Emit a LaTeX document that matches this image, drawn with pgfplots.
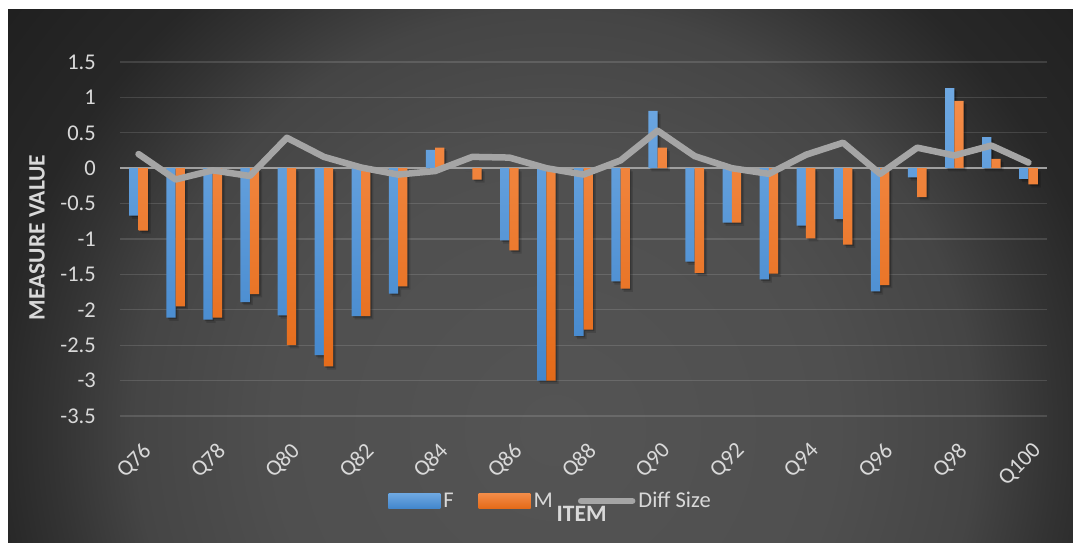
\documentclass[border=0pt]{standalone}
\usepackage{pgfplots}
\usepackage{pgfplotstable}
\pgfplotsset{compat=1.18}
\usepackage{fontspec}
\setmainfont{Carlito}

\definecolor{lab}{RGB}{217,217,217}
\definecolor{Ftop}{RGB}{110,168,226}
\definecolor{Fbot}{RGB}{66,134,204}
\definecolor{Mtop}{RGB}{244,140,72}
\definecolor{Mbot}{RGB}{228,106,24}
\definecolor{linegray}{RGB}{165,165,165}
\definecolor{zeroline}{RGB}{160,160,160}

\pgfdeclareradialshading{bgshade}{\pgfpoint{0pt}{0pt}}{%
 rgb(0pt)=(0.33,0.33,0.33);
 rgb(280pt)=(0.31,0.31,0.31);
 rgb(420pt)=(0.27,0.27,0.27);
 rgb(500pt)=(0.20,0.20,0.20);
 rgb(560pt)=(0.155,0.155,0.155);
 rgb(720pt)=(0.118,0.118,0.118)}

\pgfplotstableread{
x  F      M      D
0  -0.67  -0.88  0.20
1  -2.11  -1.95  -0.16
2  -2.14  -2.11  -0.03
3  -1.89  -1.78  -0.11
4  -2.08  -2.50  0.43
5  -2.64  -2.80  0.16
6  -2.09  -2.09  0.01
7  -1.77  -1.67  -0.09
8  0.26   0.29   -0.04
9  0      -0.16  0.16
10 -1.02  -1.16  0.15
11 -3.00  -3.00  0.00
12 -2.37  -2.28  -0.09
13 -1.60  -1.70  0.11
14 0.81   0.29   0.53
15 -1.32  -1.48  0.17
16 -0.77  -0.77  0.00
17 -1.57  -1.49  -0.08
18 -0.81  -0.99  0.19
19 -0.72  -1.08  0.36
20 -1.74  -1.65  -0.08
21 -0.13  -0.41  0.29
22 1.13   0.95   0.18
23 0.44   0.13   0.32
24 -0.15  -0.23  0.08
}\datatable

\begin{document}
\begin{tikzpicture}
\fill[white] (0pt,0pt) rectangle (1073pt,543pt);
\begin{scope}
\clip (8pt,0pt) rectangle (1073pt,533pt);
\node[inner sep=0pt] at (555pt,113pt) {\pgfuseshading{bgshade}};
\end{scope}
\begin{axis}[
  at={(120pt,127pt)}, anchor=south west,
  scale only axis, width=927pt, height=354pt,
  xmin=-0.5, xmax=24.5, ymin=-3.5, ymax=1.5,
  clip=false,
  axis line style={draw=none},
  tick style={draw=none}, major tick length=0pt,
  ytick={-3.5,-3,-2.5,-2,-1.5,-1,-0.5,0,0.5,1,1.5},
  yticklabels={-3.5,-3,-2.5,-2,-1.5,-1,-0.5,0,0.5,1,1.5},
  ymajorgrids, major grid style={color=white, opacity=0.13, line width=1.3pt},
  extra y ticks={0}, extra y tick labels={},
  extra y tick style={grid=major, major grid style={color=zeroline, opacity=1, line width=1.6pt}},
  xtick={0,2,4,6,8,10,12,14,16,18,20,22,24},
  xticklabels={Q76,Q78,Q80,Q82,Q84,Q86,Q88,Q90,Q92,Q94,Q96,Q98,Q100},
  xticklabel style={yshift=-25pt, xshift=3pt, rotate=45, anchor=north east, inner sep=0pt},
  yticklabel style={anchor=east, inner sep=0pt, xshift=-24pt},
  tick label style={font=\fontsize{22.5}{27}\selectfont, text=lab},
  label style={font=\bfseries\fontsize{23.5}{28}\selectfont, text=lab},
  xlabel={ITEM},
  xlabel style={at={(axis description cs:0.498,-0.277)}, anchor=center},
  ylabel={MEASURE VALUE},
  ylabel style={at={(axis description cs:-0.0895,0.504)}, anchor=center},
  legend style={at={(0.465,-0.240)}, anchor=center, draw=none, fill=none,
    legend columns=3, font=\fontsize{22.5}{27}\selectfont, text=lab,
    /tikz/every even column/.append style={column sep=22pt},
    nodes={inner sep=3pt}},
  shadowA/.style={ybar, bar width=9.3pt, draw=none, fill=black, fill opacity=0.22, forget plot},
]
% soft shadows
\addplot[shadowA, bar shift=-3.15pt, transform canvas={yshift=-1.5pt}] table[x=x,y=F] {\datatable};
\addplot[shadowA, bar shift=6.15pt, transform canvas={yshift=-1.5pt}] table[x=x,y=M] {\datatable};
\addplot[shadowA, fill opacity=0.14, bar shift=-1.65pt, transform canvas={yshift=-3.2pt}] table[x=x,y=F] {\datatable};
\addplot[shadowA, fill opacity=0.14, bar shift=7.65pt, transform canvas={yshift=-3.2pt}] table[x=x,y=M] {\datatable};
% bars
\addplot[ybar, bar width=9.3pt, bar shift=-4.65pt, draw=none, top color=Ftop, bottom color=Fbot,
  legend image code/.code={\fill[top color=Ftop,bottom color=Fbot] (0pt,-7.5pt) rectangle (52pt,7.5pt);}]
  table[x=x,y=F] {\datatable};
\addlegendentry{F}
\addplot[ybar, bar width=9.3pt, bar shift=4.65pt, draw=none, top color=Mtop, bottom color=Mbot,
  legend image code/.code={\fill[top color=Mtop,bottom color=Mbot] (0pt,-7.5pt) rectangle (52pt,7.5pt);}]
  table[x=x,y=M] {\datatable};
\addlegendentry{M}
\addplot[sharp plot, color=linegray, line width=6.5pt, line join=round, line cap=round, mark=none,
  legend image code/.code={\draw[linegray, line width=6.5pt, line cap=round] (3pt,0pt) -- (54pt,0pt);}]
  table[x=x,y=D] {\datatable};
\addlegendentry{Diff Size}
\end{axis}
\end{tikzpicture}
\end{document}
